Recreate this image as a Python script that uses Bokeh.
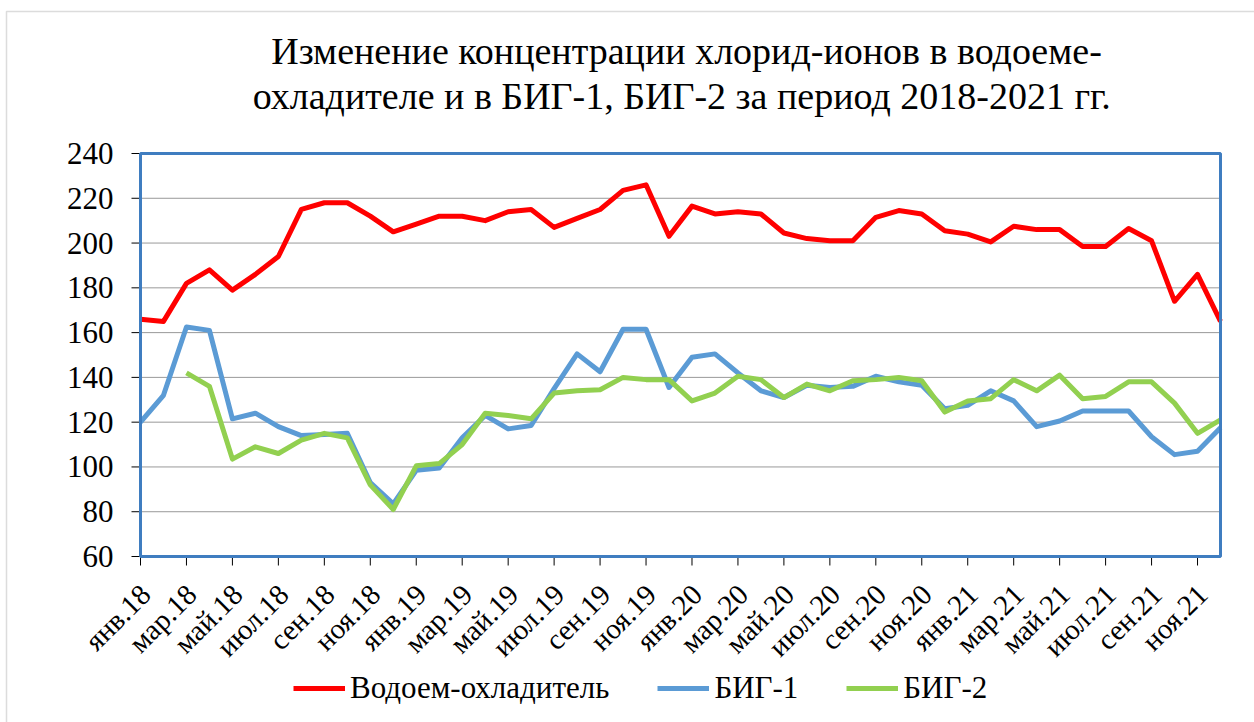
import math
from bokeh.plotting import figure
from bokeh.models import Range1d, Legend, LegendItem, BoxAnnotation, ColumnDataSource
from bokeh.core.properties import value
from bokeh.embed import file_html
from bokeh.resources import INLINE

months = ["янв", "фев", "мар", "апр", "май", "июн", "июл", "авг", "сен", "окт", "ноя", "дек"]
years = ["18", "19", "20", "21"]
categories = [f"{m}.{y}" for y in years for m in months]

vodoem = [166, 165, 182, 188, 179, 186, 194, 215, 218, 218, 212, 205,
          208.5, 212, 212, 210, 214, 215, 207, 211, 215, 223.5, 226, 203,
          216.5, 213, 214, 213, 204.5, 202, 201, 201, 211.5, 214.5, 213, 205.5,
          204, 200.5, 207.5, 206, 206, 198.5, 198.5, 206.5, 201, 174, 186, 165]
big1 = [120, 132, 162.5, 161, 121.5, 124, 118, 114, 114.5, 115, 93, 83.5,
        98.5, 99.5, 113, 123, 117, 118.5, 135, 150.5, 142.5, 161.5, 161.5, 135.5,
        149, 150.5, 142, 134, 131, 136.5, 135.5, 136, 140.5, 138, 136.5, 126,
        127.5, 134, 129.5, 118, 120.5, 125, 125, 125, 113.5, 105.5, 107, 117.5]
big2 = [None, None, 142, 136, 103.5, 109, 106, 112, 115, 113, 92, 81,
        100.5, 101.5, 110, 124, 123, 121.5, 133, 134, 134.5, 140, 139, 139,
        129.5, 133, 140.5, 139, 131, 137, 134, 138.5, 139, 140, 138.5, 124.5,
        129.5, 130.5, 139, 134, 141, 130.5, 131.5, 138, 138, 128.5, 115, 121]

series_names = ["Водоем-охладитель", "БИГ-1", "БИГ-2"]
series_colors = ["#FF0000", "#5B9BD5", "#92D050"]
y_ticks = list(range(60, 241, 20))
y_tick_labels = [str(v) for v in y_ticks]
title_lines = ["Изменение концентрации хлорид-ионов в водоеме-",
               "охладителе и в  БИГ-1, БИГ-2 за период 2018-2021 гг."]

FONT = "'Liberation Serif', 'Times New Roman', serif"

# ---- page geometry (pixels) ----
W, H = 1254, 722
PL, PR, PT, PB = 140, 1220, 153, 556   # plot band (the blue box)
n = len(categories)
Y0, Y1 = y_ticks[0], y_ticks[-1]
kx = (PR - PL) / (n - 1)          # px per month
ky = (PB - PT) / (Y1 - Y0)        # px per unit
x_start, x_end = -PL / kx, (W - PL) / kx
y_start, y_end = Y0 - (H - PB) / ky, Y1 + PT / ky

p = figure(output_backend="svg", toolbar_location=None,
           x_range=Range1d(x_start, x_end), y_range=Range1d(y_start, y_end),
           min_border_left=0, min_border_right=0, min_border_top=0, min_border_bottom=0)
p.frame_width = W
p.frame_height = H
p.outline_line_color = None
p.xaxis.visible = False
p.yaxis.visible = False
p.xgrid.grid_line_color = None
p.ygrid.grid_line_color = None

# outer chart border (left and top visible)
p.add_layout(BoxAnnotation(left=x_start + 6 / kx, right=x_end + 5, bottom=y_start - 5,
                           top=y_end - 11 / ky, fill_alpha=0,
                           line_color="#8C8C8C", line_width=1.5))

# title
cx = (n - 1) / 2
p.text(x=[cx, cx], y=[Y1, Y1], text=title_lines, x_offset=6, y_offset=[-(PT - 50), -(PT - 95)],
       text_align="center", text_baseline="middle",
       text_font=value(FONT), text_font_size="38px", text_color="black")

# dotted horizontal grid
grid_vals = y_ticks[1:-1]
p.segment(x0=[0] * len(grid_vals), y0=grid_vals, x1=[n - 1] * len(grid_vals), y1=grid_vals,
          line_color="#333333", line_dash="1 1", line_width=1)

# series
xs = list(range(n))
renderers = []
for name, vals, col in zip(series_names, [vodoem, big1, big2], series_colors):
    yv = [float("nan") if v is None else v for v in vals]
    r = p.line(xs, yv, line_color=col, line_width=5, line_join="round")
    renderers.append(r)

# plot-area border
p.add_layout(BoxAnnotation(left=0, right=n - 1, bottom=Y0, top=Y1,
                           fill_alpha=0, line_color="#3F7DC0", line_width=3, line_alpha=1))

# y axis ticks and labels
TICK = 9
p.segment(x0=[0] * len(y_ticks), y0=y_ticks, x1=[-TICK / kx] * len(y_ticks), y1=y_ticks,
          line_color="black", line_width=1)
p.text(x=[0] * len(y_ticks), y=y_ticks, text=y_tick_labels, x_offset=-27,
       text_align="right", text_baseline="middle",
       text_font=value(FONT), text_font_size="31px", text_color="black")

# x axis ticks and rotated month labels every 2 months
tick_idx = list(range(0, n, 2))
p.segment(x0=tick_idx, y0=[Y0] * len(tick_idx), x1=tick_idx,
          y1=[Y0 - TICK / ky] * len(tick_idx), line_color="black", line_width=1)
lab_src = ColumnDataSource(dict(x=tick_idx, y=[Y0] * len(tick_idx),
                                text=[categories[i] for i in tick_idx]))
p.text(x="x", y="y", text="text", source=lab_src, angle=math.pi / 4,
       text_align="right", text_baseline="middle", x_offset=5, y_offset=33,
       text_font=value(FONT), text_font_size="29px", text_color="black")

# legend
legend = Legend(items=[LegendItem(label=nm, renderers=[r]) for nm, r in zip(series_names, renderers)],
                orientation="horizontal", location=(293, 16))
legend.label_text_font = FONT
legend.label_text_font_size = "31px"
legend.label_text_color = "black"
legend.glyph_width = 52
legend.glyph_height = 20
legend.label_standoff = 5
legend.spacing = 48
legend.border_line_color = None
legend.background_fill_alpha = 0
legend.padding = 0
legend.margin = 0
p.add_layout(legend, "center")

open("out.html", "w").write(file_html(p, INLINE))
